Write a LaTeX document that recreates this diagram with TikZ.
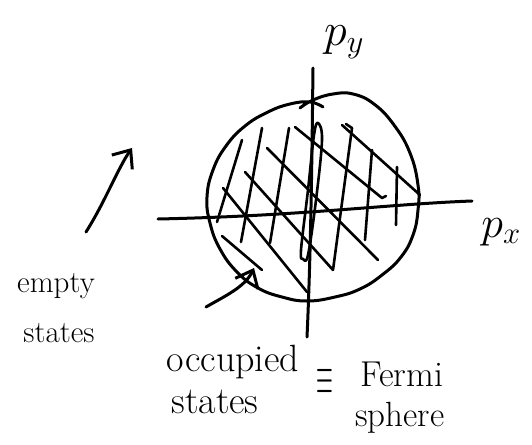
\documentclass[tikz,border=0pt]{standalone}
\usepackage{fix-cm}
\usepackage{fontspec}
\usetikzlibrary{arrows.meta}
\begin{document}
\begin{tikzpicture}[x=1pt,y=-1pt,line cap=round,line join=round,
  pen/.style={line width=3pt},
  hatch/.style={line width=2.6pt},
  lbl/.style={inner sep=0pt},
  barb/.style={-{Straight Barb[length=15pt,width=25pt,line width=3pt]}}]
\useasboundingbox (0,0) rectangle (532,444);

% axes
\coordinate (ytop) at (313,68);
\coordinate (ybot) at (307,337);
\coordinate (xl) at (158,219);
\coordinate (xr) at (472,201);
\draw[pen] (ybot) .. controls (311,250) and (312,150) .. (ytop);
\draw[pen] (xl) .. controls (300,216) and (390,204) .. (xr);

% Fermi circle
\draw[pen] plot[smooth,tension=0.75] coordinates {(300,108) (313,100) (333,94) (353,94) (374,104) (394,125) (410,153) (418,185) (418,210) (413,235) (401,257) (382,275) (360,289) (335,297) (307,301) (282,297) (258,288) (237,272) (220,249) (210,223) (207,197) (213,170) (226,146) (245,126) (268,112) (290,104) (310,102) (323,107)};

% hatching: steep strokes
\draw[hatch] (242,140) -- (217,222);
\draw[hatch] (262,128) -- (241,242);
\draw[hatch] (289,128) -- (270,243);
\draw[hatch] plot[smooth cycle,tension=0.6] coordinates {(318,123) (322,140) (316,200) (308,255) (303,259) (301,250) (308,190) (314,135)};
\draw[hatch] (346,124) -- (352,128) -- (333,270);
\draw[hatch] (372,150) -- (365,240);
\draw[hatch] (397,167) -- (396,225);
% hatching: diagonal strokes
\draw[hatch] (223,188) -- (307,292);
\draw[hatch] (222,236) -- (262,270);
\draw[hatch] (245,172) -- (333,270);
\draw[hatch] (267,148) -- (378,260);
\draw[hatch] (295,127) -- (382,198) -- (386,196);
\draw[hatch] (342,125) -- (420,195);

% axis labels
\node[lbl,font=\fontsize{46}{46}\selectfont] (py) at (344,42) {$p_y$};
\node[lbl,font=\fontsize{44}{44}\selectfont] (px) at (501,232) {$p_x$};

% empty states
\node[lbl,font=\fontsize{31}{31}\selectfont] (empty) at (56,286) {empty};
\node[lbl,font=\fontsize{31}{31}\selectfont] (states1) at (59,333) {states};
\coordinate (eA) at (86,232);
\coordinate (eB) at (132,148);
\draw[pen,barb] (eA) .. controls (105,202) and (118,168) .. (eB);

% occupied states = Fermi sphere
\node[lbl,font=\fontsize{38}{38}\selectfont] (occ) at (233,362) {occupied};
\node[lbl,font=\fontsize{38}{38}\selectfont] (states2) at (215,402) {states};
\node[lbl,font=\fontsize{36}{36}\selectfont] (equiv) at (325,382) {\scalebox{0.6}[1.5]{$\equiv$}};
\node[lbl,font=\fontsize{36}{36}\selectfont] (fermi) at (402,374) {Fermi};
\node[lbl,font=\fontsize{35}{35}\selectfont] (sphere) at (400,418) {sphere};
\coordinate (oA) at (206,307);
\coordinate (oB) at (254,268);
\draw[pen,barb] (oA) .. controls (225,296) and (245,287) .. (oB);
\end{tikzpicture}
\end{document}
